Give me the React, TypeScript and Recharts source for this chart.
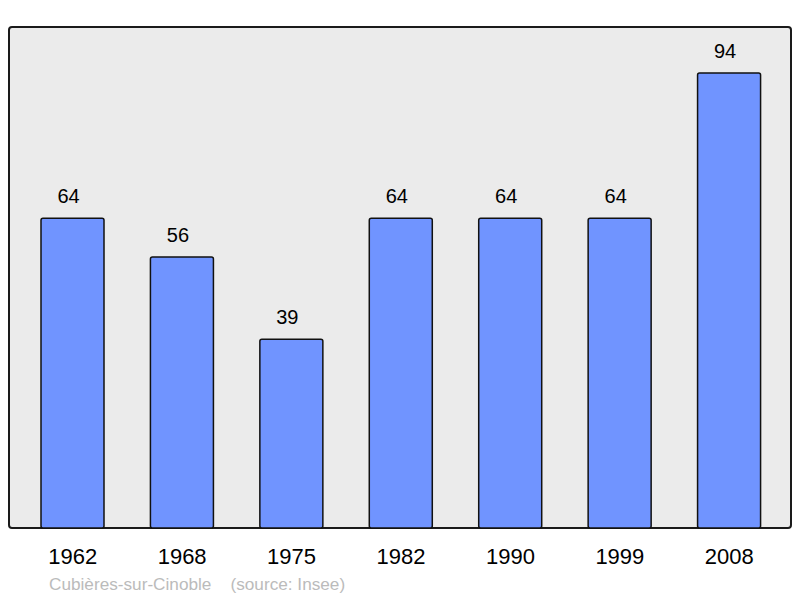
import React from "react";
import { BarChart, Bar, XAxis, YAxis, LabelList } from "recharts";

const years = ["1962", "1968", "1975", "1982", "1990", "1999", "2008"];
const population = [64, 56, 39, 64, 64, 64, 94];
const commune = "Cubières-sur-Cinoble";
const source = "(source: Insee)";

const data = years.map((year, i) => ({ year, value: population[i] }));

const FONT = "'Liberation Sans', Arial, sans-serif";

export default function App() {
  return (
    <div style={{ position: "absolute", left: 0, top: 0, width: 800, height: 598, background: "#fff", fontFamily: FONT }}>
      {/* plot frame */}
      <div
        style={{
          position: "absolute", left: 8, top: 26, width: 784, height: 503,
          background: "#ebebeb", border: "2px solid #1a1a1a", borderRadius: 4, boxSizing: "border-box",
        }}
      />
      <div style={{ position: "absolute", left: 0, top: 0 }}>
        <BarChart width={800} height={598} data={data} margin={{ top: 27, right: 9, bottom: 40, left: 9 }}>
          <XAxis
            dataKey="year"
            height={30}
            axisLine={false}
            tickLine={false}
            tickMargin={14}
            padding={{ left: 9, right: 7 }}
            tick={{ fontSize: 22, fill: "#000", fontFamily: FONT }}
            interval={0}
          />
          <YAxis hide domain={[0, 103.5]} />
          <Bar dataKey="value" fill="#7094ff" stroke="#111" strokeWidth={1.5} barSize={63} radius={2} isAnimationActive={false}>
            <LabelList
              dataKey="value"
              position="top"
              offset={15}
              dx={-4}
              style={{ fontSize: 20, fill: "#000", fontFamily: FONT }}
            />
          </Bar>
        </BarChart>
      </div>
      <div style={{ position: "absolute", left: 49, top: 574, fontSize: 17.2, color: "#bbb", whiteSpace: "pre" }}>
        {commune + "    " + source}
      </div>
    </div>
  );
}
